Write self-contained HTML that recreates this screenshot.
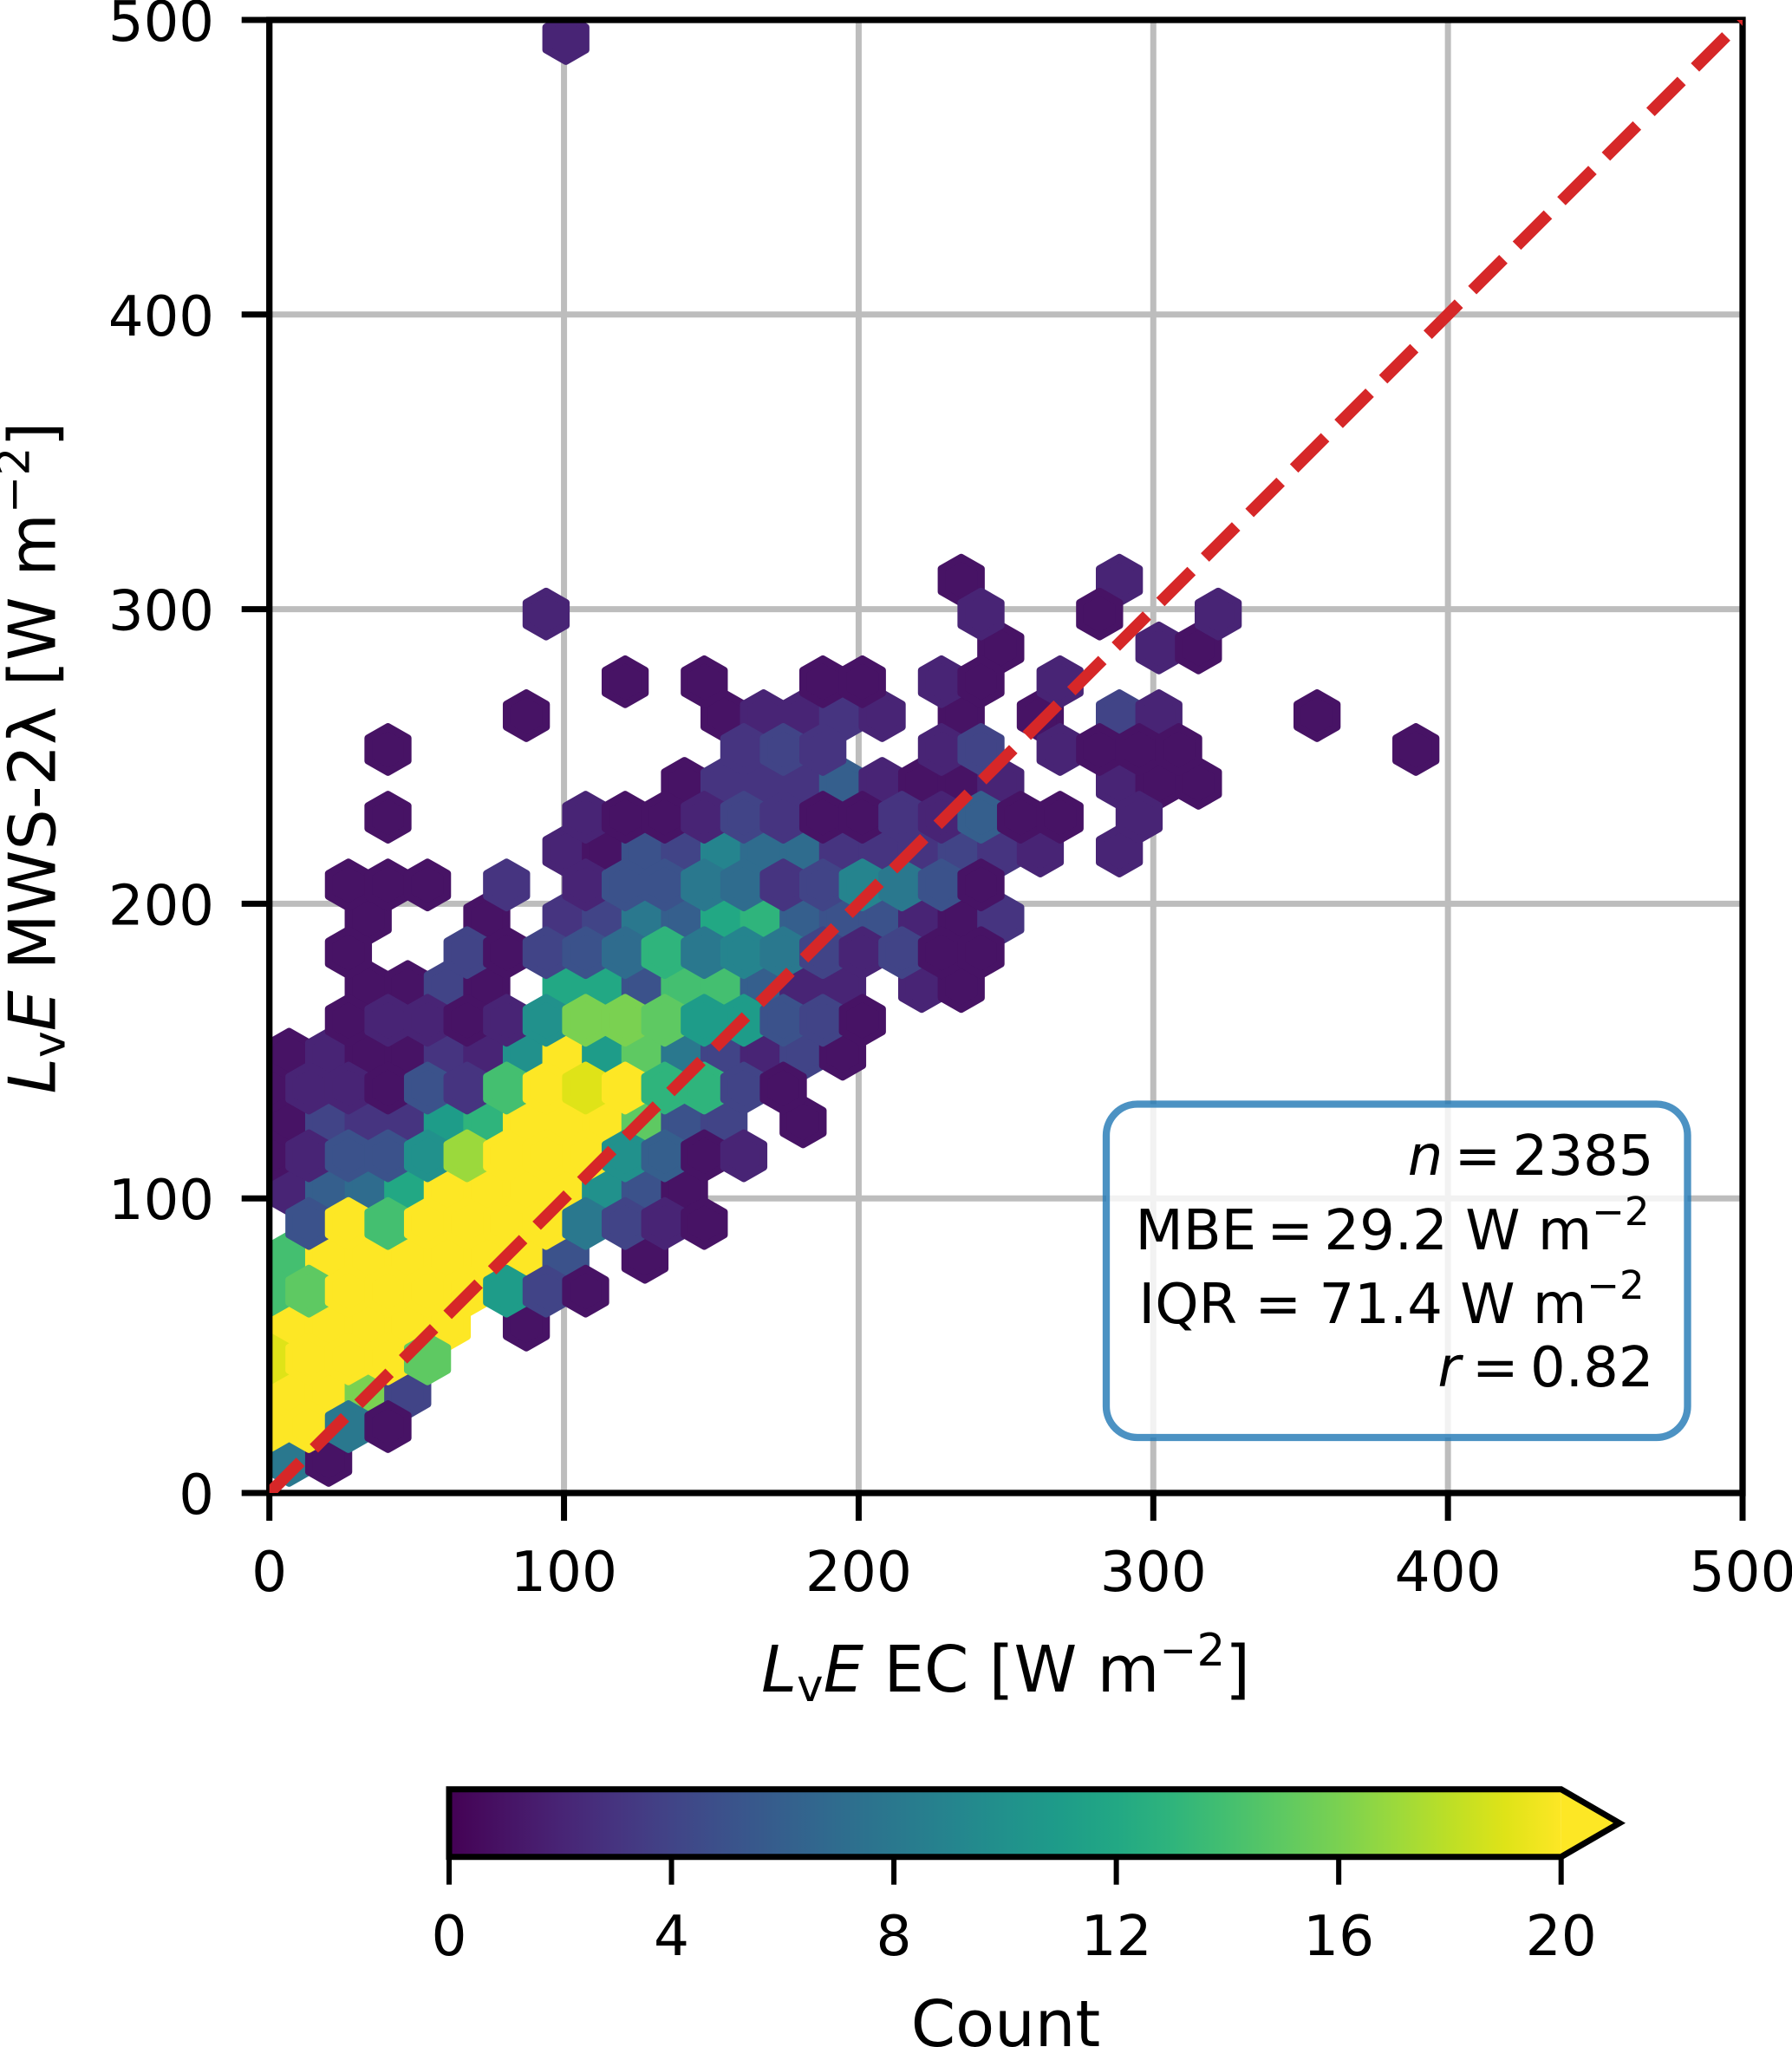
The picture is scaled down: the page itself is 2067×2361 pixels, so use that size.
<!DOCTYPE html>
<html lang="en">
<head>
<meta charset="utf-8">
<title>LvE MWS-2λ versus LvE EC hexbin</title>
<style>
html,body{margin:0;padding:0;background:#fff;}
svg{display:block;font-family:"DejaVu Sans","Liberation Sans",sans-serif;fill:#000;}
</style>
</head>
<body>
<svg id="chart" xmlns="http://www.w3.org/2000/svg" width="2067" height="2361" viewBox="0 0 2067 2361">
  <defs>
    <clipPath id="axes-clip"><rect x="310.7" y="23" width="1699.3" height="1699"/></clipPath>
    <linearGradient id="viridis-gradient" x1="0" x2="1" y1="0" y2="0"></linearGradient>
  </defs>
  <rect x="0" y="0" width="2067" height="2361" fill="#fff"/>
  <g id="grid"></g>
  <g id="hexes" clip-path="url(#axes-clip)"></g>
  <g id="ticks"></g>
  <rect x="310.7" y="23" width="1699.3" height="1699" fill="none" stroke="#000" stroke-width="7.3"/>
  <g clip-path="url(#axes-clip)">
    <line id="identity" stroke="#d62728" stroke-width="13.7" stroke-dasharray="50.7 21.97"/>
  </g>

  <text x="1160" y="1951" font-size="73.6" text-anchor="middle"><tspan font-style="italic">L</tspan><tspan font-size="51.5" dy="11">v</tspan><tspan font-style="italic" dy="-11">E</tspan> EC [W m<tspan font-size="51.5" dy="-30">−2</tspan><tspan dy="30">]</tspan></text>
  <text transform="translate(63.3,874) rotate(-90)" font-size="74.5" text-anchor="middle"><tspan font-style="italic">L</tspan><tspan font-size="52" dy="11">v</tspan><tspan font-style="italic" dy="-11">E</tspan> MWS-2λ [W m<tspan font-size="52" dy="-30">−2</tspan><tspan dy="30">]</tspan></text>

  <g>
    <rect x="1276" y="1273.5" width="670.5" height="384.5" rx="36" ry="36" fill="#fff" fill-opacity="0.8" stroke="#1f77b4" stroke-opacity="0.8" stroke-width="8.3"/>
    <text x="1907.5" y="1355" font-size="64" text-anchor="end"><tspan font-style="italic">n</tspan><tspan dx="-7"> =</tspan><tspan dx="-7"> 2385</tspan></text>
    <text x="1902.5" y="1441" font-size="64" text-anchor="end">MBE<tspan dx="-8"> =</tspan><tspan dx="-8"> 29.2 W m</tspan><tspan font-size="45" dy="-28">−2</tspan></text>
    <text x="1896.6" y="1526" font-size="64" text-anchor="end">IQR = 71.4 W m<tspan font-size="45" dy="-28">−2</tspan></text>
    <text x="1907.5" y="1599" font-size="64" text-anchor="end"><tspan font-style="italic">r</tspan><tspan dx="-7"> =</tspan><tspan dx="-7"> 0.82</tspan></text>
  </g>

  <g>
    <rect x="518" y="2063.7" width="1282.7" height="78" fill="url(#viridis-gradient)"/>
    <polygon points="1800.7,2063.7 1868,2102.7 1800.7,2141.7" fill="#fde725"/>
    <polygon points="518,2063.7 1800.7,2063.7 1868,2102.7 1800.7,2141.7 518,2141.7" fill="none" stroke="#000" stroke-width="7"/>
    <g id="cbticks"></g>
    <text x="1160" y="2360" font-size="73.6" text-anchor="middle">Count</text>
  </g>
</svg>
<script>
// Axis tick values
const xTickValues = [0, 100, 200, 300, 400, 500];
const yTickValues = [0, 100, 200, 300, 400, 500];
const colorbarTickValues = [0, 4, 8, 12, 16, 20];
// One-to-one reference line (W m-2)
const identityValues = [0, 500];
// Hexbin lattice rows; each row lists its occupied columns and the count in each
const binRows = [0,1,2,3,4,5,6,7,8,9,10,11,12,13,14,15,16,17,18,19,20,21,22,23,24,25,26,42];
const binColumnsByRow = [
  [1,3],
  [0,2,4,6],
  [1,3,5,7],
  [0,2,4,6,8],
  [1,3,5,7,9,13],
  [0,2,4,6,8,10,12,14,16],
  [1,3,5,7,9,11,13,15,19],
  [2,4,6,8,10,12,14,16,18,20,22],
  [1,3,5,7,9,11,13,15,17,19,21],
  [0,2,4,6,8,10,12,14,16,18,20,22,24],
  [1,3,5,7,9,11,13,15,17,19,21,23,27],
  [0,2,4,6,8,10,12,14,16,18,20,22,24,26],
  [1,3,5,7,9,11,13,15,17,19,21,23,25,27,29],
  [4,6,8,10,12,14,16,18,20,22,24,26,28,30],
  [5,7,9,11,15,17,19,21,23,25,27,29,33,35],
  [4,10,12,14,16,18,20,22,24,26,28,30,32,34,36],
  [5,11,15,17,19,21,23,25,27,29,31,33,35,37],
  [4,6,8,12,16,18,20,22,24,26,28,30,32,34,36],
  [15,17,19,21,23,25,27,29,31,33,35,37,39,43],
  [6,16,18,20,22,24,26,28,30,32,34,36,38,40,44],
  [21,23,25,27,29,31,33,35,37,43,45,47],
  [6,24,26,28,34,36,40,42,44,46,58],
  [13,23,25,27,29,31,35,39,43,45,53],
  [18,22,28,30,34,36,40],
  [37,45,47],
  [14,36,42,48],
  [35,43],
  [15]
];
const binCountsByRow = [
  [8,1],
  [20,20,8,1],
  [20,20,16,4],
  [19,20,20,20,15],
  [20,20,20,20,20,1],
  [14,15,20,20,20,20,11,4,1],
  [14,20,20,20,20,20,20,5,1],
  [5,20,14,20,20,20,20,8,4,2,1],
  [2,6,7,12,20,20,20,20,10,5,1],
  [1,2,5,5,10,17,20,20,20,10,6,1,2],
  [1,4,3,3,11,13,20,20,20,15,5,4,1],
  [1,2,2,1,5,3,14,20,19,20,13,13,4,1],
  [1,2,1,1,3,2,10,20,11,15,8,4,2,4,1],
  [1,2,2,1,2,10,16,16,15,11,11,5,4,1],
  [1,1,4,1,12,12,5,14,14,6,2,2,2,1],
  [1,4,1,4,5,7,13,8,9,8,4,2,4,1,1],
  [1,1,3,4,8,6,12,13,6,5,5,2,1,3],
  [1,1,1,3,2,5,5,8,7,3,4,9,8,5,1],
  [2,1,5,4,9,7,7,3,3,3,4,3,2,2],
  [1,2,1,1,2,4,3,1,1,3,2,6,1,1,2],
  [1,3,3,3,6,2,1,1,2,2,1,1],
  [1,3,4,3,2,4,2,1,1,1,1],
  [1,1,2,2,3,2,1,1,4,2,1],
  [1,1,1,1,2,1,2],
  [1,2,1],
  [2,2,1,2],
  [1,2],
  [2]
];
// Viridis colours sampled at counts 0..20
const viridisColors = ['#440154','#471365','#482475','#463480','#414487','#3b528b','#355f8d','#2f6c8e','#2a788e','#25848e','#21918c','#1e9c89','#22a884','#2fb47c','#44bf70','#5ec962','#7ad151','#9bd93c','#bddf26','#dfe318','#fde725'];

// Lattice spacing in data units
const binHalfWidth = 6.709;
const binRowHeight = 11.492;
const binFirstRowY = 11.04;

const NS = 'http://www.w3.org/2000/svg';
const AXIS = {left: 310.7, right: 2010, top: 23, bottom: 1722, max: 500};
const CB = {left: 518, right: 1800.7, top: 2063.7, bottom: 2141.7, max: 20};

function xScale(v) { return AXIS.left + (v / AXIS.max) * (AXIS.right - AXIS.left); }
function yScale(v) { return AXIS.bottom - (v / AXIS.max) * (AXIS.bottom - AXIS.top); }
function cbScale(v) { return CB.left + (v / CB.max) * (CB.right - CB.left); }
function colorFor(count) {
  const i = Math.max(0, Math.min(20, Math.round(count)));
  return viridisColors[i];
}
function svgEl(tag, parent) {
  const el = document.createElementNS(NS, tag);
  parent.appendChild(el);
  return el;
}
function setAll(el, props) {
  Object.keys(props).forEach(function (k) { el.setAttribute(k, props[k]); });
}

const gridGroup = document.getElementById('grid');
const tickGroup = document.getElementById('ticks');
const hexGroup = document.getElementById('hexes');
const cbTickGroup = document.getElementById('cbticks');

xTickValues.forEach(function (v) {
  const px = xScale(v);
  if (v > 0 && v < AXIS.max) {
    const g = svgEl('line', gridGroup);
    
    
    setAll(g, {x1: px, x2: px, y1: AXIS.top, y2: AXIS.bottom, stroke: '#bdbdbd', 'stroke-width': 7});
  }
  const t = svgEl('line', tickGroup);
  
  
  setAll(t, {x1: px, x2: px, y1: AXIS.bottom, y2: AXIS.bottom + 32, stroke: '#000', 'stroke-width': 7});
  const l = svgEl('text', tickGroup);
  
  
  setAll(l, {x: px, y: 1835, 'font-size': 64.5, 'text-anchor': 'middle'});
  l.textContent = String(v);
});

yTickValues.forEach(function (v) {
  const py = yScale(v);
  if (v > 0 && v < AXIS.max) {
    const g = svgEl('line', gridGroup);
    
    
    setAll(g, {x1: AXIS.left, x2: AXIS.right, y1: py, y2: py, stroke: '#bdbdbd', 'stroke-width': 7});
  }
  const t = svgEl('line', tickGroup);
  
  
  setAll(t, {x1: AXIS.left - 32, x2: AXIS.left, y1: py, y2: py, stroke: '#000', 'stroke-width': 7});
  const l = svgEl('text', tickGroup);
  
  
  setAll(l, {x: 247, y: py + 24, 'font-size': 64, 'text-anchor': 'end'});
  l.textContent = String(v);
});

// Flatten rows into draw order: lattice one (even rows) below lattice two (odd rows), left to right.
const cells = [];
binRows.forEach(function (row, i) {
  binColumnsByRow[i].forEach(function (col, j) {
    cells.push({row: row, col: col, count: binCountsByRow[i][j]});
  });
});
cells.sort(function (a, b) {
  return (a.row % 2) - (b.row % 2) || a.col - b.col || a.row - b.row;
});

const hw = xScale(binHalfWidth) - xScale(0);
const rowPx = yScale(0) - yScale(binRowHeight);
cells.forEach(function (cell) {
  const cx = xScale(cell.col * binHalfWidth);
  const cy = yScale(binFirstRowY + cell.row * binRowHeight);
  const tip = rowPx * 2 / 3;
  const side = rowPx / 3;
  const pts = [
    [cx + hw, cy - side], [cx + hw, cy + side], [cx, cy + tip],
    [cx - hw, cy + side], [cx - hw, cy - side], [cx, cy - tip]
  ].map(function (p) { return p[0].toFixed(2) + ',' + p[1].toFixed(2); }).join(' ');
  const poly = svgEl('polygon', hexGroup);
  
  
  const colour = colorFor(cell.count);
  setAll(poly, {points: pts, fill: colour, stroke: colour, 'stroke-width': 8.7, 'stroke-linejoin': 'round'});
});

const identity = document.getElementById('identity');
setAll(identity, {
  x1: xScale(identityValues[0]), y1: yScale(identityValues[0]),
  x2: xScale(identityValues[1]), y2: yScale(identityValues[1])
});

const gradient = document.getElementById('viridis-gradient');
viridisColors.forEach(function (c, i) {
  const s = svgEl('stop', gradient);
  setAll(s, {offset: (i / (viridisColors.length - 1)), 'stop-color': c});
});

colorbarTickValues.forEach(function (v) {
  const px = cbScale(v);
  const t = svgEl('line', cbTickGroup);
  
  
  setAll(t, {x1: px, x2: px, y1: CB.bottom, y2: CB.bottom + 32, stroke: '#000', 'stroke-width': 6});
  const l = svgEl('text', cbTickGroup);
  
  
  setAll(l, {x: px, y: 2255, 'font-size': 64.5, 'text-anchor': 'middle'});
  l.textContent = String(v);
});
</script>
</body>
</html>
